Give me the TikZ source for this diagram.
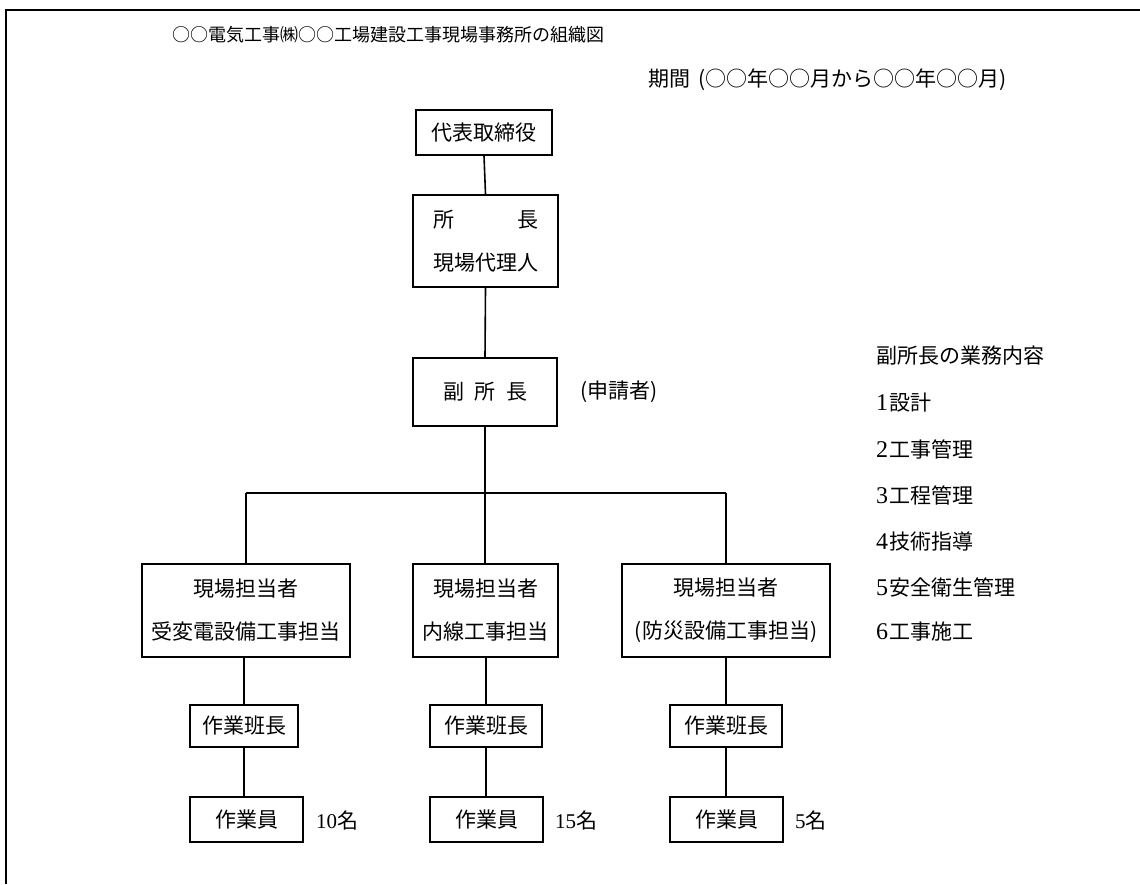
\documentclass[tikz,border=0pt]{standalone}
\usepackage{fontspec}
\setmainfont{Liberation Serif}
\newfontfamily\jp{Noto Sans CJK JP}
\newfontfamily\dgfont{Liberation Serif}
\newcommand\dg[1]{{\dgfont #1}}
\newcommand\ldg[1]{{\dgfont\fontsize{24}{25}\selectfont #1}\hspace{1pt}}
\begin{document}
\begin{tikzpicture}[x=1pt,y=-1pt,
  orgbox/.style={draw,line width=1.8pt,inner sep=0pt,align=center,font=\jp\fontsize{21}{43}\selectfont},
  conn/.style={line width=1.6pt},
  lbl/.style={anchor=west,inner sep=0pt,font=\jp\fontsize{21}{25}\selectfont}]
\useasboundingbox (0,0) rectangle (1140,884);
\fill[white] (0,0) rectangle (1140,884);
\draw[line width=2pt] (6,884) -- (6,10) -- (1140,10);

\node[lbl,font=\jp\fontsize{18}{22}\selectfont] (title) at (172,35) {○○電気工事㈱○○工場建設工事現場事務所の組織図};
\node[lbl] (period) at (648,80) {期間\hspace{0.4em}(○○年○○月から○○年○○月)};

\node[orgbox,minimum width=136pt,minimum height=45pt] (ceo) at (484,132.5) {代表取締役};
\node[orgbox,minimum width=145pt,minimum height=92pt] (sho) at (485.5,241) {所\hspace{3em}長\\現場代理人};
\node[orgbox,minimum width=144pt,minimum height=68pt] (fuku) at (485,392) {副\hspace{0.5em}所\hspace{0.5em}長};
\node[lbl] (shinsei) at (580,392) {(申請者)};

\coordinate (j) at (485,493);
\coordinate (jl) at (246,493);
\coordinate (jr) at (726,493);

\node[orgbox,minimum width=208pt,minimum height=93pt] (a1) at (246,610.5) {現場担当者\\受変電設備工事担当};
\node[orgbox,minimum width=145pt,minimum height=93pt] (a2) at (485.5,610.5) {現場担当者\\内線工事担当};
\node[orgbox,minimum width=208pt,minimum height=93pt] (a3) at (726,610.5) {現場担当者\\(防災設備工事担当)};

\node[orgbox,minimum width=108pt,minimum height=42pt] (b1) at (244,726) {作業班長};
\node[orgbox,minimum width=112pt,minimum height=42pt] (b2) at (486,726) {作業班長};
\node[orgbox,minimum width=112pt,minimum height=42pt] (b3) at (726,726) {作業班長};

\node[orgbox,minimum width=113pt,minimum height=45pt] (c1) at (246.5,819.5) {作業員};
\node[orgbox,minimum width=113pt,minimum height=45pt] (c2) at (486.5,819.5) {作業員};
\node[orgbox,minimum width=113pt,minimum height=45pt] (c3) at (726.5,819.5) {作業員};

\node[lbl] (n1) at (316,820) {\dg{10}名};
\node[lbl] (n2) at (555,820) {\dg{15}名};
\node[lbl] (n3) at (795,820) {\dg{5}名};

\draw[conn] (ceo.south) -- (sho.north);
\draw[conn] (sho.south) -- (fuku.north);
\draw[conn] (fuku.south) -- (j);
\draw[conn] (jl) -- (jr);
\draw[conn] (jl) -- (a1.north);
\draw[conn] (j) -- (j |- a2.north);
\draw[conn] (jr) -- (a3.north);
\draw[conn] (b1 |- a1.south) -- (b1.north);
\draw[conn] (b2 |- a2.south) -- (b2.north);
\draw[conn] (b3 |- a3.south) -- (b3.north);
\draw[conn] (b1.south) -- (b1 |- c1.north);
\draw[conn] (b2.south) -- (b2 |- c2.north);
\draw[conn] (b3.south) -- (b3 |- c3.north);

\node[lbl] (g0) at (876,356) {副所長の業務内容};
\node[lbl] (g1) at (876,403) {\ldg{1}設計};
\node[lbl] (g2) at (876,449) {\ldg{2}工事管理};
\node[lbl] (g3) at (876,495) {\ldg{3}工程管理};
\node[lbl] (g4) at (876,541) {\ldg{4}技術指導};
\node[lbl] (g5) at (876,587) {\ldg{5}安全衛生管理};
\node[lbl] (g6) at (876,632) {\ldg{6}工事施工};
\end{tikzpicture}
\end{document}
